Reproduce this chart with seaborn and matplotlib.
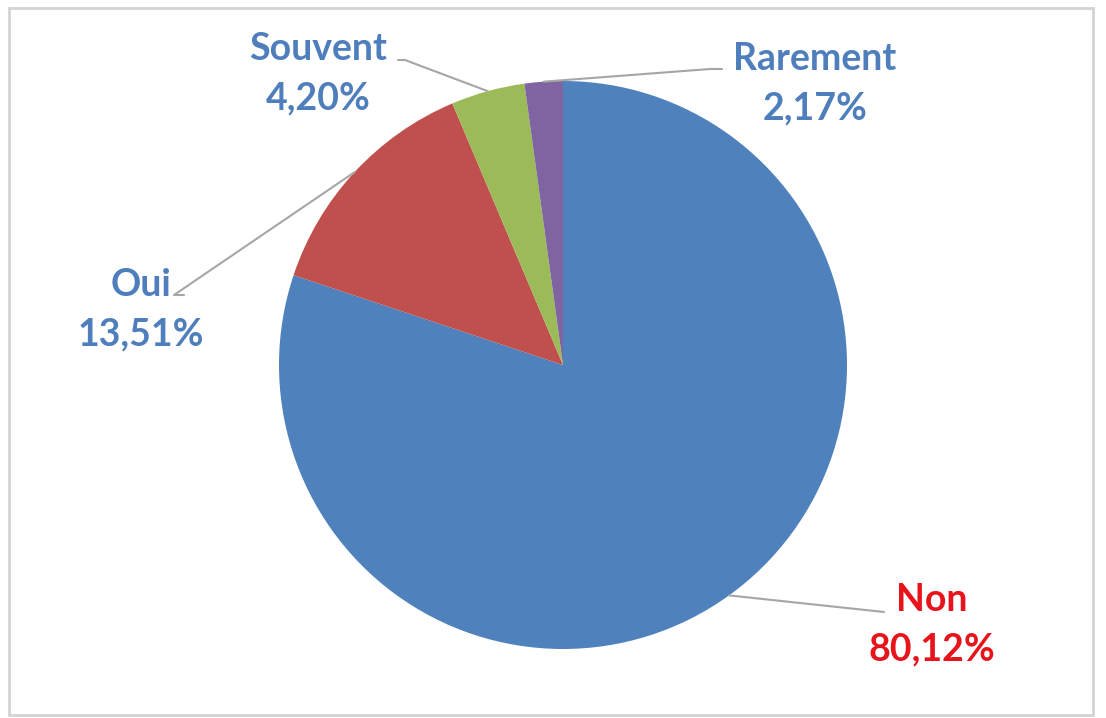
import matplotlib
matplotlib.use("Agg")
import matplotlib.pyplot as plt
from matplotlib.patches import Rectangle
import seaborn as sns
import numpy as np

# Survey answers and their shares (%)
categories = ["Non", "Oui", "Souvent", "Rarement"]
shares = [80.12, 13.51, 4.20, 2.17]
labels = ["Non\n80,12%", "Oui\n13,51%", "Souvent\n4,20%", "Rarement\n2,17%"]

slice_colors = ["#4F81BD", "#C0504D", "#9BBB59", "#8064A2"]
label_colors = ["#E8141C", "#4F7EBD", "#4F7EBD", "#4F7EBD"]

sns.set_theme(style="white")
plt.rcParams["font.family"] = ["Lato", "DejaVu Sans"]

W, H = 1106, 718
fig = plt.figure(figsize=(W / 100, H / 100), dpi=100)
ax = fig.add_axes([0, 0, 1, 1])

cx, cy, r = 563, H - 365, 284
wedges, _ = ax.pie(
    shares,
    colors=slice_colors,
    startangle=90,
    counterclock=False,
    center=(cx, cy),
    radius=r,
    frame=True,
    wedgeprops=dict(linewidth=0),
)
ax.set_xlim(0, W)
ax.set_ylim(0, H)
ax.set_aspect("equal")
ax.axis("off")

# label anchor (text centre) and leader-line elbow, in pixel space (y from top)
text_pos = [(932, 625), (141, 310), (318, 74), (815, 84)]
elbows = [(884, 612), (184, 295), (398, 60), (722, 69)]
kinks = [(884, 612), (174, 295), (405, 60), (710, 69)]

for w, lab, col, tp, el, kk in zip(wedges, labels, label_colors, text_pos, elbows, kinks):
    mid = np.deg2rad((w.theta1 + w.theta2) / 2)
    px, py = cx + r * np.cos(mid), cy + r * np.sin(mid)
    ax.plot([px, kk[0], el[0]], [py, H - kk[1], H - el[1]],
            color="#A6A6A6", lw=1.5, solid_capstyle="round", zorder=1)
    ax.text(tp[0], H - tp[1], lab, ha="center", va="center", color=col,
            fontsize=27, fontweight="bold", linespacing=1.55)

# light chart-area frame
ax.add_patch(Rectangle((9, H - 715), 1084, 707, fill=False,
                       edgecolor="#D4D4D4", lw=2, zorder=0))

fig.savefig("out.png", dpi=100, facecolor="white")
